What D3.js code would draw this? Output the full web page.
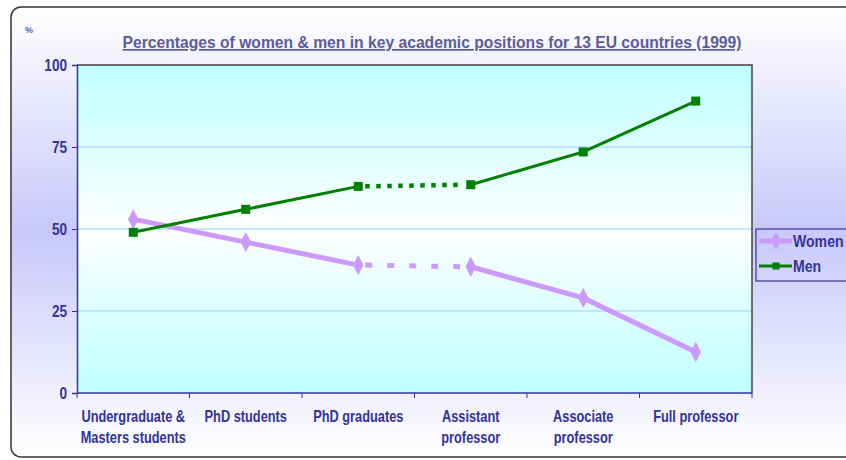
<!DOCTYPE html>
<html>
<head>
<meta charset="utf-8">
<script src="https://d3js.org/d3.v7.min.js"></script>
<style>
  body { margin: 0; background: #fff; }
  svg text { font-family: "Liberation Sans", Arial, sans-serif; font-weight: bold; }
</style>
</head>
<body>
<script>
// data
var categories = ["Undergraduate &\nMasters students", "PhD students", "PhD graduates", "Assistant\nprofessor", "Associate\nprofessor", "Full professor"];
var women = [53, 46, 39, 38.5, 29, 12.5];
var men = [49, 56, 63, 63.5, 73.5, 89];
var yTicks = [0, 25, 50, 75, 100];
var gapAfter = 2; // segment between PhD graduates and Assistant professor is dotted

var width = 846, height = 460;
var margin = {left: 77, right: 94, top: 65, bottom: 67};
var narrow = 0.8; // no narrow font installed, squeeze horizontally

var svg = d3.select("body").append("svg")
    .attr("width", width)
    .attr("height", height);

var defs = svg.append("defs");
var bg = defs.append("linearGradient").attr("id", "bg").attr("x1", 0).attr("y1", 0).attr("x2", 0).attr("y2", 1);
bg.append("stop").attr("offset", "0%").attr("stop-color", "#ffffff");
bg.append("stop").attr("offset", "50%").attr("stop-color", "#c8c8fa");
bg.append("stop").attr("offset", "100%").attr("stop-color", "#ffffff");
var pg = defs.append("linearGradient").attr("id", "plotbg").attr("x1", 0).attr("y1", 0).attr("x2", 0).attr("y2", 1);
pg.append("stop").attr("offset", "0%").attr("stop-color", "#c0ffff");
pg.append("stop").attr("offset", "50%").attr("stop-color", "#fcffff");
pg.append("stop").attr("offset", "100%").attr("stop-color", "#c0ffff");

// outer frame
svg.append("rect")
    .attr("x", 11).attr("y", 7)
    .attr("width", 850).attr("height", 450)
    .attr("rx", 10)
    .attr("fill", "url(#bg)")
    .attr("stroke", "#333")
    .attr("stroke-width", 1.5);

var x = d3.scaleBand()
    .domain(categories)
    .range([margin.left, width - margin.right]);
var y = d3.scaleLinear()
    .domain([0, 100])
    .range([height - margin.bottom, margin.top]);

// plot area
svg.append("rect")
    .attr("x", margin.left).attr("y", margin.top)
    .attr("width", width - margin.left - margin.right)
    .attr("height", y(0) - y(100))
    .attr("fill", "url(#plotbg)");

svg.append("g")
    .selectAll("line")
    .data([25, 50, 75])
    .join("line")
    .attr("x1", margin.left).attr("x2", width - margin.right)
    .attr("y1", d => y(d)).attr("y2", d => y(d))
    .attr("stroke", "#99ccff")
    .attr("stroke-width", 1);

// top and right border
svg.append("path")
    .attr("d", "M" + margin.left + "," + y(100) + "H" + (width - margin.right) + "V" + y(0))
    .attr("fill", "none")
    .attr("stroke", "#444")
    .attr("stroke-width", 1.5);

// y axis
var yAxis = svg.append("g")
    .attr("transform", "translate(" + margin.left + ",0)")
    .call(d3.axisLeft(y).tickValues(yTicks).tickSize(5).tickPadding(5));
yAxis.select(".domain").attr("stroke", "#333399").attr("stroke-width", 1.5);
yAxis.selectAll(".tick line").attr("stroke", "#333399");
yAxis.selectAll(".tick text")
    .attr("x", 0)
    .attr("transform", "translate(-10,0) scale(0.85,1)")
    .attr("fill", "#333399")
    .style("font-size", "16px");

// x axis
var bounds = categories.map(c => x(c)).concat([width - margin.right]);
var xAxis = svg.append("g");
xAxis.append("line")
    .attr("x1", margin.left).attr("x2", width - margin.right)
    .attr("y1", y(0)).attr("y2", y(0))
    .attr("stroke", "#333399").attr("stroke-width", 1.5);
xAxis.selectAll(".xtick")
    .data(bounds)
    .join("line")
    .attr("class", "xtick")
    .attr("x1", d => d).attr("x2", d => d)
    .attr("y1", y(0)).attr("y2", y(0) + 5)
    .attr("stroke", "#333399");
var xl = xAxis.selectAll(".xlabel")
    .data(categories)
    .join("text")
    .attr("class", "xlabel")
    .attr("text-anchor", "middle")
    .attr("fill", "#333399")
    .style("font-size", "16px")
    .attr("transform", d => "translate(" + (x(d) + x.bandwidth() / 2) + "," + (y(0) + 29) + ") scale(" + narrow + ",1)");
xl.selectAll("tspan")
    .data(d => d.split("\n"))
    .join("tspan")
    .attr("x", 0)
    .attr("dy", (d, i) => i ? 21 : 0)
    .text(d => d);

// lines
function cx(i) { return x(categories[i]) + x.bandwidth() / 2; }

function drawSeries(vals, color, w, dw, dash) {
    var g = svg.append("g");
    var solid = [vals.slice(0, gapAfter + 1).map((v, i) => [cx(i), y(v)]),
                 vals.slice(gapAfter + 1).map((v, i) => [cx(i + gapAfter + 1), y(v)])];
    g.selectAll(".solid")
        .data(solid)
        .join("path")
        .attr("class", "solid")
        .attr("d", d3.line())
        .attr("fill", "none")
        .attr("stroke", color)
        .attr("stroke-width", w);
    g.append("path")
        .attr("d", d3.line()([[cx(gapAfter) + 7, y(vals[gapAfter])], [cx(gapAfter + 1) - 7, y(vals[gapAfter + 1])]]))
        .attr("fill", "none")
        .attr("stroke", color)
        .attr("stroke-width", dw)
        .attr("stroke-dasharray", dash);
    return g;
}

var gw = drawSeries(women, "#cc99ff", 5, 5, "7,15");
gw.selectAll("path.m")
    .data(women)
    .join("path")
    .attr("class", "m")
    .attr("d", d3.symbol(d3.symbolDiamond, 120))
    .attr("transform", (d, i) => "translate(" + cx(i) + "," + y(d) + ") scale(0.9,1)")
    .attr("fill", "#cc99ff");

var gm = drawSeries(men, "#008000", 3, 4.5, "4.5,6.5");
gm.selectAll("rect.m")
    .data(men)
    .join("rect")
    .attr("class", "m")
    .attr("x", (d, i) => cx(i) - 4.5)
    .attr("y", d => y(d) - 4.5)
    .attr("width", 9).attr("height", 9)
    .attr("fill", "#008000");

// title
svg.append("text")
    .attr("x", 432).attr("y", 48)
    .attr("text-anchor", "middle")
    .attr("fill", "#5c5c98")
    .attr("text-decoration", "underline")
    .attr("textLength", 619)
    .attr("lengthAdjust", "spacingAndGlyphs")
    .style("font-size", "17px")
    .text("Percentages of women & men in key academic positions for 13 EU countries (1999)");

svg.append("text")
    .attr("x", 25).attr("y", 33)
    .attr("fill", "#5c5c98")
    .style("font-size", "9px")
    .text("%");

// legend
var lg = svg.append("g").attr("transform", "translate(756,229)");
lg.append("rect")
    .attr("width", 100).attr("height", 52)
    .attr("fill", "none")
    .attr("stroke", "#333399")
    .attr("stroke-width", 1.2);
var items = [{name: "Women", color: "#cc99ff", w: 5}, {name: "Men", color: "#008000", w: 3}];
var li = lg.selectAll(".li")
    .data(items)
    .join("g")
    .attr("class", "li")
    .attr("transform", (d, i) => "translate(0," + (12 + i * 25) + ")");
li.append("line")
    .attr("x1", 3).attr("x2", 36)
    .attr("stroke", d => d.color)
    .attr("stroke-width", d => d.w);
li.append("path")
    .attr("transform", "translate(20,0)")
    .attr("d", (d, i) => i ? d3.symbol(d3.symbolSquare, 49)() : d3.symbol(d3.symbolDiamond, 90)())
    .attr("fill", d => d.color);
li.append("text")
    .attr("transform", "translate(37,6) scale(0.88,1)")
    .attr("fill", "#333399")
    .style("font-size", "16px")
    .text(d => d.name);
</script>
</body>
</html>
